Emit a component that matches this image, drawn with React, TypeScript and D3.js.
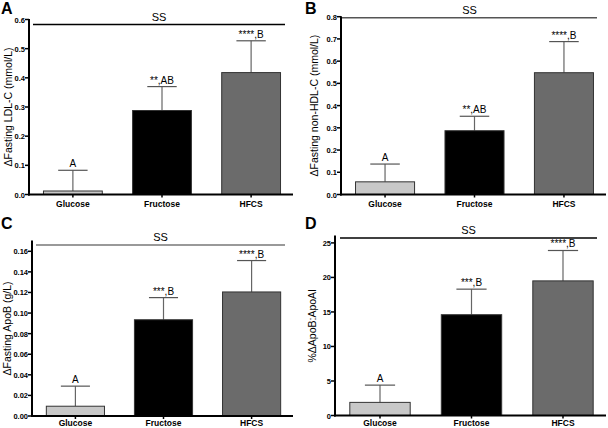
import React from "react";
import * as d3 from "d3";

const categories = ["Glucose", "Fructose", "HFCS"];

const meanA = [0.012, 0.288, 0.418];
const upperA = [0.083, 0.37, 0.527];
const sigA = ["A", "**,AB", "****,B"];

const meanB = [0.057, 0.287, 0.548];
const upperB = [0.137, 0.352, 0.688];
const sigB = ["A", "**,AB", "****,B"];

const meanC = [0.0095, 0.0935, 0.1205];
const upperC = [0.029, 0.115, 0.151];
const sigC = ["A", "***,B", "****,B"];

const meanD = [1.9, 14.6, 19.5];
const upperD = [4.4, 18.3, 23.9];
const sigD = ["A", "***,B", "****,B"];

const ticksA = [0, 0.1, 0.2, 0.3, 0.4, 0.5, 0.6];
const ticksB = [0, 0.1, 0.2, 0.3, 0.4, 0.5, 0.6, 0.7, 0.8];
const ticksC = [0, 0.02, 0.04, 0.06, 0.08, 0.1, 0.12, 0.14, 0.16];
const ticksD = [0, 5, 10, 15, 20, 25];

const fills = ["#c8c8c8", "#000000", "#6b6b6b"];
const FONT = "Liberation Sans, Arial, Helvetica, sans-serif";

type PanelProps = {
  letter: string;
  yLabel: string;
  means: number[];
  uppers: number[];
  sigs: string[];
  ticks: number[];
  yMax: number;
  fmt: string;
  x0: number;
  x1: number;
  yTop: number;
  yBottom: number;
  catDy: number;
  letterX: number;
  letterY: number;
  labelX: number;
  ssY: number;
  ssX0: number;
  ssX1: number;
  ssColor: string;
};

function Panel(p: PanelProps) {
  const y = d3.scaleLinear().domain([0, p.yMax]).range([p.yBottom, p.yTop]);
  const x = d3
    .scaleBand<string>()
    .domain(categories)
    .range([p.x0 + 2, p.x1])
    .paddingInner(0.34)
    .paddingOuter(0.14);
  const f = d3.format(p.fmt);
  const bw = x.bandwidth();
  const yMid = (p.yTop + p.yBottom) / 2;
  return (
    <g fontFamily={FONT}>
      <text x={p.letterX} y={p.letterY} fontSize={16} fontWeight="bold">
        {p.letter}
      </text>
      {categories.map((c, i) => {
        const cx = (x(c) as number) + bw / 2;
        return (
          <g key={c}>
            <line x1={cx} x2={cx} y1={y(p.means[i])} y2={y(p.uppers[i])} stroke="#666" strokeWidth={1.2} />
            <line x1={cx - bw / 4} x2={cx + bw / 4} y1={y(p.uppers[i])} y2={y(p.uppers[i])} stroke="#555" strokeWidth={1.2} />
            <rect
              x={x(c)}
              y={y(p.means[i])}
              width={bw}
              height={p.yBottom - y(p.means[i])}
              fill={fills[i]}
              stroke="#333"
              strokeWidth={1}
            />
            <text x={cx} y={y(p.uppers[i]) - 3} fontSize={10} textAnchor="middle">
              {p.sigs[i]}
            </text>
            <line x1={cx} x2={cx} y1={p.yBottom} y2={p.yBottom + 3} stroke="#000" strokeWidth={1.5} />
            <text x={cx} y={p.yBottom + p.catDy} fontSize={8.5} fontWeight="bold" textAnchor="middle">
              {c}
            </text>
          </g>
        );
      })}
      <line x1={p.x0} x2={p.x0} y1={p.yTop - 0.5} y2={p.yBottom + 1} stroke="#000" strokeWidth={2} />
      {p.ticks.map((t) => (
        <g key={t}>
          <line x1={p.x0 - 4} x2={p.x0} y1={y(t)} y2={y(t)} stroke="#000" strokeWidth={1.5} />
          <text x={p.x0 - 4} y={y(t) + 3} fontSize={7.5} fontWeight="bold" textAnchor="end">
            {f(t)}
          </text>
        </g>
      ))}
      <line x1={p.x0 - 1} x2={p.x1} y1={p.yBottom} y2={p.yBottom} stroke="#000" strokeWidth={2} />
      <text
        transform={`translate(${p.labelX},${yMid}) rotate(-90)`}
        fontSize={10.5}
        textAnchor="middle"
      >
        {p.yLabel}
      </text>
      <line x1={p.ssX0} x2={p.ssX1} y1={p.ssY} y2={p.ssY} stroke={p.ssColor} strokeWidth={1.5} />
      <text x={(p.ssX0 + p.ssX1) / 2} y={p.ssY - 4} fontSize={11} textAnchor="middle">
        SS
      </text>
    </g>
  );
}

export default function App() {
  return (
    <svg width={608} height={428} style={{ position: "absolute", left: 0, top: 0, background: "#fff" }}>
      <rect width={608} height={428} fill="#fff" />
      <Panel
        letter="A"
        yLabel="ΔFasting LDL-C (mmol/L)"
        means={meanA}
        uppers={upperA}
        sigs={sigA}
        ticks={ticksA}
        yMax={0.6}
        fmt=".1f"
        x0={29}
        x1={293}
        yTop={19.5}
        yBottom={194.5}
        catDy={12}
        letterX={1}
        letterY={14}
        labelX={12}
        ssY={24.5}
        ssX0={33}
        ssX1={285}
        ssColor="#000"
      />
      <Panel
        letter="B"
        yLabel="ΔFasting non-HDL-C (mmol/L)"
        means={meanB}
        uppers={upperB}
        sigs={sigB}
        ticks={ticksB}
        yMax={0.8}
        fmt=".1f"
        x0={341}
        x1={606}
        yTop={16.7}
        yBottom={194.5}
        catDy={12}
        letterX={305}
        letterY={14}
        labelX={318}
        ssY={17.7}
        ssX0={342}
        ssX1={597}
        ssColor="#555"
      />
      <Panel
        letter="C"
        yLabel="ΔFasting ApoB (g/L)"
        means={meanC}
        uppers={upperC}
        sigs={sigC}
        ticks={ticksC}
        yMax={0.17}
        fmt=".2f"
        x0={32}
        x1={293}
        yTop={241}
        yBottom={416}
        catDy={10}
        letterX={1}
        letterY={229}
        labelX={11}
        ssY={245}
        ssX0={36}
        ssX1={285}
        ssColor="#777"
      />
      <Panel
        letter="D"
        yLabel="%ΔApoB:ApoAI"
        means={meanD}
        uppers={upperD}
        sigs={sigD}
        ticks={ticksD}
        yMax={26}
        fmt="d"
        x0={335}
        x1={606}
        yTop={236}
        yBottom={415.5}
        catDy={10}
        letterX={305}
        letterY={229}
        labelX={316}
        ssY={238}
        ssX0={340}
        ssX1={597}
        ssColor="#000"
      />
    </svg>
  );
}
